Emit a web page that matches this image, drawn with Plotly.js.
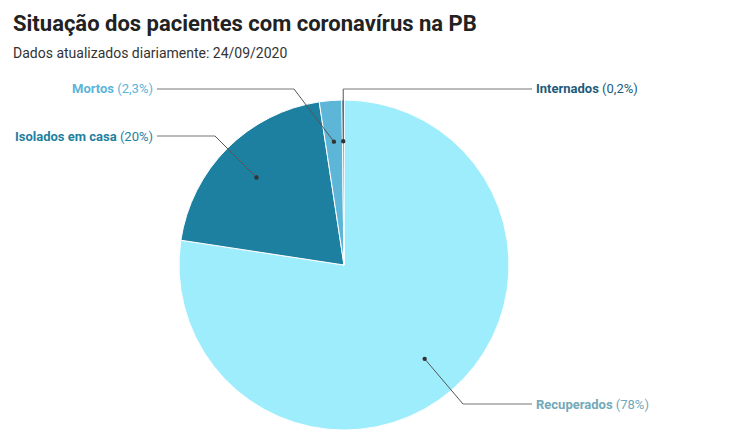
<!DOCTYPE html>
<html>
<head>
<meta charset="utf-8">
<script src="https://cdn.plot.ly/plotly-3.0.1.min.js"></script>
<style>html,body{margin:0;padding:0;background:#fff;}#chart{width:747px;height:442px;}</style>
</head>
<body>
<div id="chart"></div>
<script>
// ---- data ----
const categories = ["Recuperados", "Isolados em casa", "Mortos", "Internados"];
const values = [77.4, 20.2, 2.2, 0.2];
const pctLabels = ["(78%)", "(20%)", "(2,3%)", "(0,2%)"];

// ---- styles ----
const sliceColors = ["#9eedfd", "#1d80a1", "#5db5d8", "#245f7e"];
const labelColors = ["#72a9b9", "#1f7fa0", "#5bb5da", "#1d5b7a"];
const W = 747, H = 442;
const cx = 344, cy = 265, R = 165;
// label layout per category: side, label y (px), elbow x (px, null = vertical from dot)
const labelLayout = [
  {side: "right", y: 404, elbowX: 463},
  {side: "left",  y: 136, elbowX: 215},
  {side: "left",  y: 89,  elbowX: 294},
  {side: "right", y: 89,  elbowX: null}
];

const px = x => x / W;
const py = y => 1 - y / H;

const total = values.reduce((a, b) => a + b, 0);
let cum = 0;
const shapes = [];
const annotations = [];
values.forEach((v, i) => {
  const mid = (cum + v / 2) / total * 2 * Math.PI;
  cum += v;
  const dx = cx + 0.75 * R * Math.sin(mid);
  const dy = cy - 0.75 * R * Math.cos(mid);
  const L = labelLayout[i];
  const ex = L.elbowX === null ? dx : L.elbowX;
  const endX = L.side === "left" ? 157 : 532;
  shapes.push({type: "line", xref: "paper", yref: "paper", x0: px(dx), y0: py(dy), x1: px(ex), y1: py(L.y),
               line: {color: "#555", width: 1}});
  shapes.push({type: "line", xref: "paper", yref: "paper", x0: px(ex), y0: py(L.y), x1: px(endX), y1: py(L.y),
               line: {color: "#777", width: 1}});
  shapes.push({type: "circle", xref: "paper", yref: "paper", x0: px(dx - 2.2), x1: px(dx + 2.2), y0: py(dy + 2.2), y1: py(dy - 2.2),
               fillcolor: "#333", line: {width: 0}});
  annotations.push({
    xref: "paper", yref: "paper",
    x: L.side === "left" ? px(155) : px(534), y: py(L.y),
    xanchor: L.side === "left" ? "right" : "left", yanchor: "middle",
    text: "<b>" + categories[i] + "</b> " + pctLabels[i],
    showarrow: false,
    font: {family: "Roboto", size: 13, color: labelColors[i]}
  });
});

annotations.push({
  xref: "paper", yref: "paper", x: px(11), y: py(53), xanchor: "left", yanchor: "middle",
  text: "Dados atualizados diariamente: 24/09/2020", showarrow: false,
  font: {family: "Roboto", size: 14, color: "#333"}
});

const trace = {
  type: "pie",
  labels: categories,
  values: values,
  sort: false,
  direction: "clockwise",
  rotation: 0,
  textinfo: "none",
  hoverinfo: "label+percent",
  marker: {colors: sliceColors, line: {color: "#fff", width: 1}},
  domain: {x: [px(cx - R), px(cx + R)], y: [py(cy + R), py(cy - R)]},
  showlegend: false
};

const layout = {
  width: W, height: H,
  margin: {l: 0, r: 0, t: 0, b: 0},
  paper_bgcolor: "#fff",
  title: {text: "<b>Situação dos pacientes com coronavírus na PB</b>", x: px(13), xanchor: "left", xref: "paper",
          y: py(23), yref: "container", yanchor: "middle",
          font: {family: "Roboto", size: 22, color: "#222"}},
  shapes: shapes,
  annotations: annotations
};

Plotly.newPlot("chart", [trace], layout, {displayModeBar: false, staticPlot: true});
</script>
</body>
</html>
